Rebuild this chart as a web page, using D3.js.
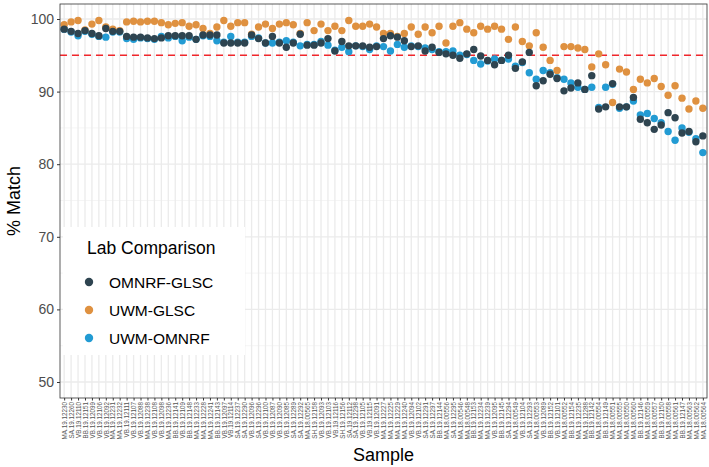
<!DOCTYPE html>
<html><head><meta charset="utf-8">
<script src="https://cdn.jsdelivr.net/npm/d3@7"></script>
<style>
html,body{margin:0;padding:0;background:#fff;}
svg{display:block;font-family:"Liberation Sans",Arial,sans-serif;}
</style></head>
<body><svg id="chart" width="709" height="467"></svg>
<script>
const samples = ["MA.19.12230","SA.19.12260","VB.19.12110","BB.19.12151","VB.19.12099","VB.19.12106","VB.19.12092","MA.19.12231","MA.19.12232","VB.19.12111","VB.19.12107","VB.19.12088","MA.19.12238","VB.19.12108","VB.19.12098","MA.19.12236",
"BB.19.12141","VB.19.12109","BB.19.12148","MA.19.12233","MA.19.12228","MA.19.12241","BB.19.12143","VB.19.12097","VB.19.12114","SA.19.12237","SA.19.12290","VB.19.12096","SA.19.12296","VB.19.12100",
"VB.19.12087","VB.19.12090","VB.19.12085","SA.19.12289","SA.19.12292","MA.18.00565","SH.19.12158","VB.19.12093","VB.19.12103","VB.19.12116","SH.19.12156","SA.19.12112","SA.19.12298","VB.19.12105","VB.19.12115",
"VB.19.12091","MA.19.12227","MA.19.12225","MA.19.12229","MA.19.12240","VB.19.12094","VB.19.12102","SA.19.12291","SA.19.12297","BB.19.12144","MA.18.00556","SA.19.12295","MA.18.00546","MA.18.00548","BB.19.12153",
"MA.19.12234","MA.19.12239","VB.19.12095","BB.19.12145","SA.19.12294","MA.18.00549","VB.19.12104","SA.19.12293","MA.18.00553","VB.19.12089","BB.19.12152","VB.19.12101","MA.18.00552","BB.19.12154","MA.19.12235","MA.19.12288",
"BB.19.12142","MA.18.00554","BB.19.12149","MA.18.00551","MA.18.00555","MA.18.00550","MA.18.00560","BB.19.12146","MA.18.00559","MA.18.00557","BB.19.12150","MA.18.00558","MA.18.00561","BB.19.12147","MA.18.00563","MA.18.00562","MA.18.00564"];

const omnrfGlsc = [98.6,98.3,98.0,98.4,98.0,97.7,98.7,98.3,98.3,97.6,97.5,97.5,97.4,97.3,97.4,97.7,
97.7,97.7,97.7,97.2,97.8,97.8,97.8,96.7,96.7,96.7,96.7,97.8,97.3,96.7,
97.6,96.7,96.1,96.7,97.9,96.4,96.4,96.7,97.3,95.6,96.9,96.3,96.3,96.3,96.1,
96.2,97.3,97.7,97.5,97.0,96.2,96.3,95.6,96.1,95.4,95.2,95.0,94.6,95.2,95.8,
94.9,94.3,93.7,94.3,95.0,93.2,94.1,95.4,90.8,91.5,92.4,91.8,90.1,90.5,91.2,90.3,
92.2,87.6,87.9,91.1,87.9,87.9,89.2,86.2,85.7,84.8,85.4,87.1,86.4,84.3,84.5,83.1,83.9];

const uwmGlsc = [99.2,99.6,99.8,98.5,99.3,99.8,98.9,98.6,98.4,99.6,99.7,99.6,99.7,99.7,99.5,99.2,
99.4,99.5,99.0,99.2,98.7,98.0,98.9,99.8,99.0,99.5,99.5,97.9,98.9,99.3,
98.7,99.3,99.5,99.2,98.0,99.5,98.4,99.3,98.4,99.0,98.4,99.8,99.0,99.0,99.3,
98.9,98.0,98.0,97.6,98.0,98.9,97.9,98.9,98.1,99.0,96.7,99.0,99.5,98.6,98.1,
99.0,98.6,99.0,98.6,97.2,98.9,96.9,96.3,98.1,96.1,94.3,92.9,96.2,96.2,96.0,95.8,
93.4,95.2,93.7,88.5,93.1,92.7,90.3,91.7,91.2,91.8,90.7,89.5,90.8,89.1,87.6,88.7,87.7];

const uwmOmnrf = [98.6,98.2,97.7,98.3,97.9,97.6,97.5,98.2,98.2,97.3,97.2,97.4,97.3,97.2,97.6,97.4,
97.6,97.0,97.5,97.2,97.7,97.6,97.0,96.8,97.6,96.8,96.8,97.6,97.4,96.7,
96.7,96.8,97.0,96.8,96.3,96.5,96.5,96.9,96.4,95.7,96.1,95.5,96.3,96.2,95.8,
96.3,96.2,95.6,96.5,96.1,96.3,96.2,96.0,95.8,95.5,95.5,95.6,95.0,95.1,94.3,
93.8,94.2,94.5,94.3,94.5,93.5,94.0,92.6,91.7,92.9,92.6,91.9,91.7,91.2,90.6,90.3,
90.6,87.8,90.6,91.0,87.7,87.9,88.7,86.8,87.0,86.3,85.7,84.5,83.3,85.0,84.4,83.5,81.6];

const comparisons = ["OMNRF-GLSC","UWM-GLSC","UWM-OMNRF"];
const colors = ["#2e4450","#df9140","#229bd3"];
const seriesValues = [omnrfGlsc, uwmGlsc, uwmOmnrf];
const yTicks = [50,60,70,80,90,100];
const yMinor = [55,65,75,85,95];
const threshold = 95;

const svg = d3.select("#chart");
const L = 60, R = 707, T = 4, B = 398;

const x = d3.scalePoint().domain(samples).range([L, R]).padding(0.6);
const y = d3.scaleLinear().domain([50, 100]).range([382, 19]);

svg.append("rect").attr("x", L).attr("y", T).attr("width", R - L).attr("height", B - T).attr("fill", "#fff");

svg.append("g").selectAll("line").data(yMinor).join("line")
  .attr("x1", L).attr("x2", R).attr("y1", d => y(d)).attr("y2", d => y(d))
  .attr("stroke", "#f2f2f2").attr("stroke-width", 0.8);
svg.append("g").selectAll("line").data(yTicks).join("line")
  .attr("x1", L).attr("x2", R).attr("y1", d => y(d)).attr("y2", d => y(d))
  .attr("stroke", "#ebebeb").attr("stroke-width", 1.3);
svg.append("g").selectAll("line").data(samples).join("line")
  .attr("x1", d => x(d)).attr("x2", d => x(d)).attr("y1", T).attr("y2", B)
  .attr("stroke", "#ebebeb").attr("stroke-width", 1.3);

svg.append("line").attr("x1", L).attr("x2", R).attr("y1", y(threshold)).attr("y2", y(threshold))
  .attr("stroke", "#f0262b").attr("stroke-width", 1.6).attr("stroke-dasharray", "7,5");

const drawOrder = [2, 1, 0];
drawOrder.forEach(si => {
  svg.append("g").selectAll("circle").data(samples).join("circle")
    .attr("cx", d => x(d)).attr("cy", (d, i) => y(seriesValues[si][i]))
    .attr("r", 3.7).attr("fill", colors[si]);
});

svg.append("rect").attr("x", L).attr("y", T).attr("width", R - L).attr("height", B - T)
  .attr("fill", "none").attr("stroke", "#333").attr("stroke-width", 0.8);

const yAxis = svg.append("g").attr("transform", `translate(${L},0)`)
  .call(d3.axisLeft(y).tickValues(yTicks).tickSize(3).tickPadding(3));
yAxis.select(".domain").remove();
yAxis.selectAll("line").attr("stroke", "#333");
yAxis.selectAll("text").attr("fill", "#4d4d4d").style("font-size", "14px")
  .style("font-family", '"Liberation Sans",Arial,sans-serif');

const xAxis = svg.append("g").attr("transform", `translate(0,${B})`)
  .call(d3.axisBottom(x).tickSize(2.5).tickPadding(2));
xAxis.select(".domain").remove();
xAxis.selectAll("line").attr("stroke", "#333");
xAxis.selectAll("text").attr("fill", "#555").style("font-size", "6.3px")
  .style("font-family", '"Liberation Sans",Arial,sans-serif')
  .attr("transform", "rotate(-90)").attr("text-anchor", "end")
  .attr("x", -4).attr("y", 0).attr("dy", "0.35em");

svg.append("text").attr("x", (L + R) / 2).attr("y", 461).attr("text-anchor", "middle")
  .style("font-size", "18px").attr("fill", "#000").text("Sample");
svg.append("text").attr("transform", `translate(20,${(T + B) / 2}) rotate(-90)`)
  .attr("text-anchor", "middle").style("font-size", "18px").attr("fill", "#000").text("% Match");

const lg = svg.append("g");
lg.append("rect").attr("x", 63).attr("y", 227).attr("width", 182).attr("height", 128).attr("fill", "#fff");
lg.append("text").attr("x", 87).attr("y", 254).style("font-size", "17.5px").attr("fill", "#000").text("Lab Comparison");
comparisons.forEach((c, i) => {
  const cy = 282 + i * 28;
  lg.append("circle").attr("cx", 89).attr("cy", cy).attr("r", 4.2).attr("fill", colors[i]);
  lg.append("text").attr("x", 109).attr("y", cy + 5.5).style("font-size", "15.5px").attr("fill", "#000").text(c);
});
</script></body></html>
